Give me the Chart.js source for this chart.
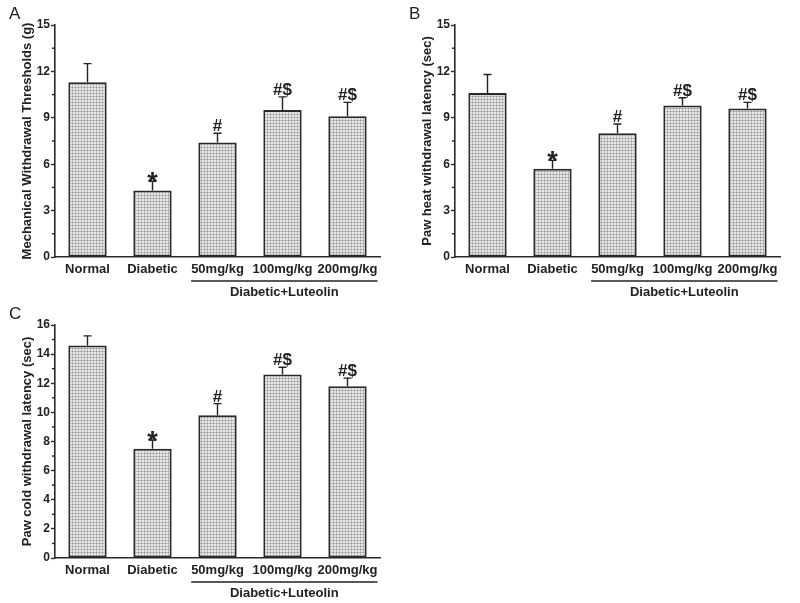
<!DOCTYPE html>
<html>
<head>
<meta charset="utf-8">
<script src="https://cdn.jsdelivr.net/npm/chart.js@4.4.1/dist/chart.umd.min.js"></script>
<style>
  body { margin: 0; background: #fff; }
  .panel { position: absolute; }
</style>
</head>
<body>
<div class="panel" style="left:0;top:0;width:400px;height:300px"><canvas id="chart-a"></canvas></div>
<div class="panel" style="left:400px;top:0;width:400px;height:300px"><canvas id="chart-b"></canvas></div>
<div class="panel" style="left:0;top:300px;width:400px;height:303px"><canvas id="chart-c"></canvas></div>
<script>
const groups = ["Normal", "Diabetic", "50mg/kg", "100mg/kg", "200mg/kg"];
const marks = ["", "*", "#", "#$", "#$"];
const groupLabel = "Diabetic+Luteolin";

const mechValues = [11.3, 4.3, 7.4, 9.5, 9.1];
const mechErrors = [1.2, 0.6, 0.6, 0.85, 0.9];
const heatValues = [10.6, 5.7, 8.0, 9.8, 9.6];
const heatErrors = [1.2, 0.55, 0.6, 0.5, 0.4];
const coldValues = [14.6, 7.5, 9.8, 12.6, 11.8];
const coldErrors = [0.65, 0.6, 0.8, 0.5, 0.55];

const ink = "#222";
const font = "'Liberation Sans', Arial, sans-serif";

// small grid fill like the printed bars
function makePattern() {
  const c = document.createElement("canvas");
  c.width = 3; c.height = 3;
  const g = c.getContext("2d");
  g.fillStyle = "#e8e8e8"; g.fillRect(0, 0, 3, 3);
  g.fillStyle = "#bdbdbd"; g.fillRect(0, 0, 3, 1); g.fillRect(0, 0, 1, 3);
  g.fillStyle = "#969696"; g.fillRect(0, 0, 1, 1);
  return g.createPattern(c, "repeat");
}

const extras = {
  id: "extras",
  afterDatasetsDraw(chart, args, opts) {
    const ctx = chart.ctx;
    const x = chart.scales.x, y = chart.scales.y;
    const meta = chart.getDatasetMeta(0);
    ctx.save();
    ctx.strokeStyle = ink; ctx.fillStyle = ink; ctx.lineWidth = 1.4;
    // error bars (upper only) and significance marks
    opts.values.forEach((v, i) => {
      const cx = meta.data[i].x;
      const top = y.getPixelForValue(v + opts.errors[i]);
      const base = y.getPixelForValue(v);
      ctx.beginPath();
      ctx.moveTo(cx, base); ctx.lineTo(cx, top);
      ctx.moveTo(cx - 4, top); ctx.lineTo(cx + 4, top);
      ctx.stroke();
      const m = marks[i];
      if (m) {
        ctx.textAlign = "center"; ctx.textBaseline = "alphabetic";
        if (m === "*") {
          ctx.font = "bold 27px " + font;
          ctx.fillText(m, cx, top + 10);
        } else {
          ctx.font = "bold 17px " + font;
          ctx.fillText(m, cx, top - 2);
        }
      }
    });
    // minor ticks on y
    const step = opts.step;
    for (let v = step / 2; v < y.max; v += step) {
      const py = y.getPixelForValue(v);
      ctx.beginPath(); ctx.moveTo(x.left, py); ctx.lineTo(x.left - 3, py); ctx.stroke();
    }
    // bracket under the luteolin groups
    ctx.font = "bold 13px " + font;
    const x0 = meta.data[2].x - ctx.measureText(groups[2]).width / 2;
    const x1 = meta.data[4].x + ctx.measureText(groups[4]).width / 2;
    const by = y.bottom + 24;
    ctx.beginPath(); ctx.moveTo(x0, by); ctx.lineTo(x1, by); ctx.stroke();
    ctx.textAlign = "center"; ctx.textBaseline = "middle";
    ctx.fillText(groupLabel, (x0 + x1) / 2, by + 11);
    // panel letter
    ctx.font = "17px " + font; ctx.textAlign = "left"; ctx.textBaseline = "top";
    ctx.fillText(opts.letter, 9, 6);
    ctx.restore();
  }
};

function makeChart(id, values, errors, title, yMax, step, letter, bottom) {
  return new Chart(document.getElementById(id), {
    type: "bar",
    data: {
      labels: groups,
      datasets: [{
        data: values,
        backgroundColor: makePattern(),
        borderColor: "#2a2a2a",
        borderWidth: 2,
        borderSkipped: false,
        barPercentage: 0.59,
        categoryPercentage: 1
      }]
    },
    options: {
      responsive: true,
      maintainAspectRatio: false,
      animation: false,
      layout: { padding: { top: 25, right: 20, left: 20, bottom: 0 } },
      plugins: {
        legend: { display: false },
        tooltip: { enabled: false },
        extras: { values, errors, step, letter }
      },
      scales: {
        x: {
          grid: { display: false, drawTicks: false },
          border: { color: "#2a2a2a", width: 1.6 },
          ticks: { color: ink, font: { family: font, size: 13, weight: "bold" }, padding: 5, maxRotation: 0 },
          afterFit(s) { s.height = bottom; }
        },
        y: {
          min: 0, max: yMax,
          grid: {
            drawOnChartArea: false, drawTicks: true, tickLength: 4,
            tickColor: c => (c.tick && c.tick.value % step === 0) ? "#2a2a2a" : "transparent",
            tickWidth: 1.4
          },
          border: { color: "#2a2a2a", width: 1.6 },
          ticks: {
            stepSize: step / 2, color: ink, padding: 1,
            font: { family: font, size: 12, weight: "bold" },
            callback: v => (v % step === 0 ? v : "")
          },
          title: { display: true, text: title, color: ink, font: { family: font, size: 13, weight: "bold" }, padding: { top: 0, bottom: 0 } },
          afterFit(s) { s.width = 35; }
        }
      }
    },
    plugins: [extras]
  });
}

makeChart("chart-a", mechValues, mechErrors, "Mechanical Withdrawal Thresholds (g)", 15, 3, "A", 43);
makeChart("chart-b", heatValues, heatErrors, "Paw heat withdrawal latency (sec)", 15, 3, "B", 43);
makeChart("chart-c", coldValues, coldErrors, "Paw cold withdrawal latency (sec)", 16, 2, "C", 45);
</script>
</body>
</html>
